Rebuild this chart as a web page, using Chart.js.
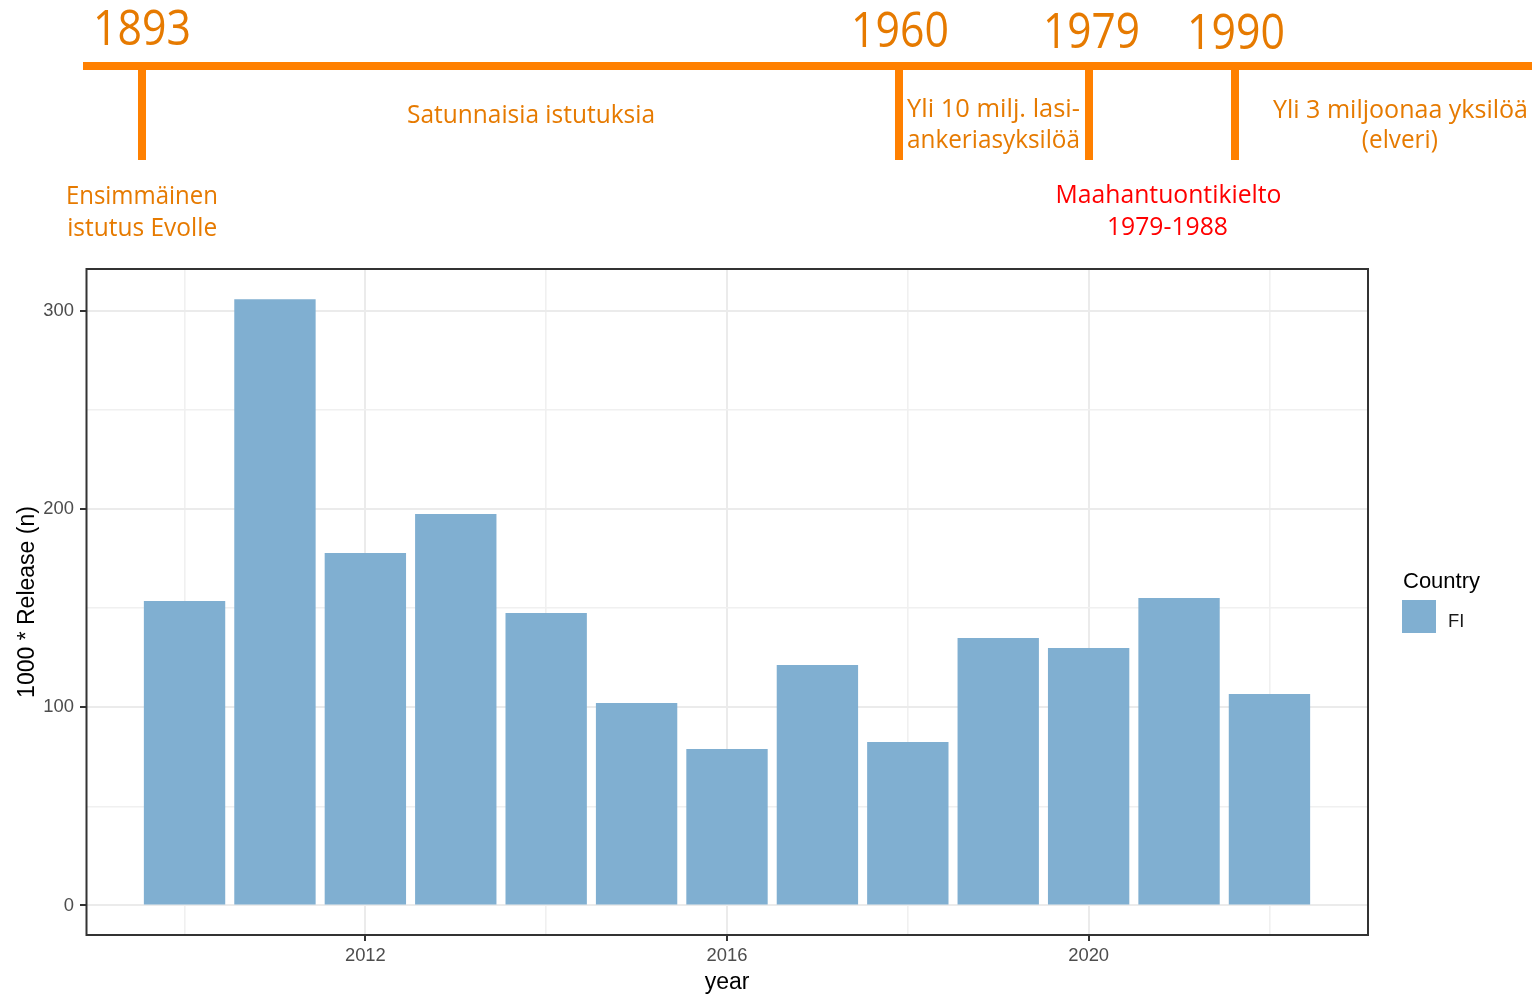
<!DOCTYPE html>
<html><head><meta charset="utf-8">
<script src="https://cdn.jsdelivr.net/npm/chart.js@4.4.1/dist/chart.umd.min.js"></script>
<style>
html,body{margin:0;padding:0;background:#fff;width:1539px;height:996px;overflow:hidden;}
#wrap{position:relative;width:1539px;height:996px;}
canvas{position:absolute;left:0;top:0;}
.tl{position:absolute;background:#FF8000;}
.tt{position:absolute;white-space:nowrap;font-family:'Open Sans','Noto Sans',sans-serif;line-height:1;}
</style></head><body><div id="wrap"><canvas id="c" width="1539" height="996"></canvas></div>
<script>
// ---- chart data ----
const years = [2010, 2011, 2012, 2013, 2014, 2015, 2016, 2017, 2018, 2019, 2020, 2021, 2022];
const releases = [153.6, 305.8, 177.8, 197.4, 147.5, 102.1, 78.9, 121.3, 82.5, 134.9, 129.9, 155.1, 106.7];
const xTickLabels = [2012, 2016, 2020];
const xGridValues = [2010, 2012, 2014, 2016, 2018, 2020, 2022];
const yTickLabels = [0, 100, 200, 300];
const yGridValues = [0, 50, 100, 150, 200, 250, 300];
const seriesName = 'FI';
const legendTitle = 'Country';
const xTitle = 'year';
const yTitle = '1000 * Release (n)';

// ---- timeline texts ----
const timelineYears = ['1893', '1960', '1979', '1990'];
const timelineNotes = ['Ensimmäinen', 'istutus Evolle', 'Satunnaisia istutuksia', 'Yli 10 milj. lasi-', 'ankeriasyksilöä', 'Yli 3 miljoonaa yksilöä', '(elveri)'];
const banNotes = ['Maahantuontikielto', '1979-1988'];

// ---- layout (positions / styles) ----
const ORANGE_TEXT = '#E67A00', RED_TEXT = '#FF0000';
const wrap = document.getElementById('wrap');
function box(l, t, w, h) {
  const d = document.createElement('div'); d.className = 'tl';
  d.style.left = l + 'px'; d.style.top = t + 'px'; d.style.width = w + 'px'; d.style.height = h + 'px';
  wrap.appendChild(d);
}
box(83, 62, 1449, 8);
[142, 899, 1089, 1235].forEach(cx => box(cx - 4, 62, 8, 98));

function placeText(txt, o) {
  const d = document.createElement('div');
  d.className = 'tt'; d.textContent = txt;
  d.style.fontSize = o.size + 'px'; d.style.color = o.color;
  wrap.appendChild(d);
  const w = d.getBoundingClientRect().width;
  const s = o.w / w;
  d.style.left = (o.align === 'center' ? o.x - w / 2 : o.x) + 'px';
  d.style.top = (o.base - 0.888 * o.size) + 'px';
  d.style.transformOrigin = o.align === 'center' ? '50% 0' : '0 0';
  d.style.transform = 'scaleX(' + s + ')';
}
const yearLayout = [{x: 93, w: 98, base: 45.5}, {x: 851, w: 98, base: 47.5}, {x: 1043, w: 97, base: 48.5}, {x: 1187, w: 98, base: 50}];
timelineYears.forEach((t, i) => placeText(t, Object.assign({size: 49, color: ORANGE_TEXT, align: 'left'}, yearLayout[i])));
const noteLayout = [
  {align: 'center', x: 142, w: 152, base: 205},
  {align: 'center', x: 142, w: 150, base: 237},
  {align: 'left', x: 407, w: 248, base: 124},
  {align: 'left', x: 907, w: 173, base: 118},
  {align: 'left', x: 907, w: 173, base: 149},
  {align: 'left', x: 1273, w: 255, base: 119},
  {align: 'center', x: 1400, w: 76, base: 149}
];
timelineNotes.forEach((t, i) => placeText(t, Object.assign({size: 25.5, color: ORANGE_TEXT}, noteLayout[i])));
const banLayout = [{align: 'center', x: 1168, w: 226, base: 204}, {align: 'center', x: 1167.5, w: 121, base: 236}];
banNotes.forEach((t, i) => placeText(t, Object.assign({size: 25.5, color: RED_TEXT}, banLayout[i])));

// ---- chart ----
const FONT = "'Liberation Sans', Arial, sans-serif";
const BAR = '#80AFD1';
const panelBorder = {
  id: 'panelBorder',
  afterDraw(chart) {
    const {ctx, chartArea: a} = chart;
    ctx.save(); ctx.strokeStyle = '#333333'; ctx.lineWidth = 2;
    ctx.strokeRect(a.left + 0.5, a.top, a.right - a.left - 0.5, a.bottom - a.top);
    ctx.restore();
  }
};
const legendPlugin = {
  id: 'ggLegend',
  afterDraw(chart) {
    const ctx = chart.ctx;
    ctx.save();
    ctx.fillStyle = '#000'; ctx.textBaseline = 'alphabetic'; ctx.textAlign = 'left';
    ctx.font = '22px ' + FONT;
    ctx.fillText(legendTitle, 1403, 588);
    ctx.fillStyle = chart.data.datasets[0].backgroundColor;
    ctx.fillRect(1402, 600, 34, 33);
    ctx.fillStyle = '#1a1a1a'; ctx.font = '18.4px ' + FONT;
    ctx.fillText(chart.data.datasets[0].label, 1448, 627);
    ctx.restore();
  }
};
const tv = c => (c && c.tick) ? c.tick.value : null;
const isMajorX = v => xTickLabels.includes(v);
const isMajorY = v => yTickLabels.includes(v);
new Chart(document.getElementById('c'), {
  type: 'bar',
  data: {
    datasets: [{
      label: seriesName,
      data: years.map((y, i) => ({x: y, y: releases[i]})),
      backgroundColor: BAR, borderWidth: 0,
      barPercentage: 0.9, categoryPercentage: 1
    }]
  },
  options: {
    responsive: false, animation: false, devicePixelRatio: 1,
    layout: {padding: {left: 0, top: 269, right: 171, bottom: 0}},
    plugins: {legend: {display: false}, tooltip: {enabled: false}},
    scales: {
      x: {
        type: 'linear', min: 2008.91, max: 2023.09, offset: false,
        afterBuildTicks: s => { s.ticks = xGridValues.map(v => ({value: v})); },
        afterFit: s => { s.height = 61; },
        border: {display: false},
        grid: {
          offset: false,
          color: c => isMajorX(tv(c)) ? '#EBEBEB' : '#F0F0F0',
          lineWidth: c => isMajorX(tv(c)) ? 2 : 1.6,
          tickColor: c => isMajorX(tv(c)) ? '#333333' : 'rgba(0,0,0,0)',
          tickWidth: 2, tickLength: 6, drawTicks: true
        },
        ticks: {
          autoSkip: false, maxRotation: 0, padding: 4,
          callback: v => isMajorX(v) ? String(v) : '',
          color: '#4D4D4D', font: {family: FONT, size: 18.4}
        },
        title: {display: true, text: xTitle, color: '#000', font: {family: FONT, size: 23}, padding: {top: 0, bottom: 0}}
      },
      y: {
        type: 'linear', min: -14.9, max: 321,
        afterBuildTicks: s => { s.ticks = yGridValues.map(v => ({value: v})); },
        afterFit: s => { s.width = 86; },
        border: {display: false},
        grid: {
          color: c => isMajorY(tv(c)) ? '#EBEBEB' : '#F0F0F0',
          lineWidth: c => isMajorY(tv(c)) ? 2 : 1.6,
          tickColor: c => isMajorY(tv(c)) ? '#333333' : 'rgba(0,0,0,0)',
          tickWidth: 2, tickLength: 6, drawTicks: true
        },
        ticks: {
          padding: 6,
          callback: v => isMajorY(v) ? String(v) : '',
          color: '#4D4D4D', font: {family: FONT, size: 18.4}
        },
        title: {display: true, text: yTitle, color: '#000', font: {family: FONT, size: 23}, padding: {top: 14, bottom: 0}}
      }
    }
  },
  plugins: [panelBorder, legendPlugin]
});
</script>
</body></html>
